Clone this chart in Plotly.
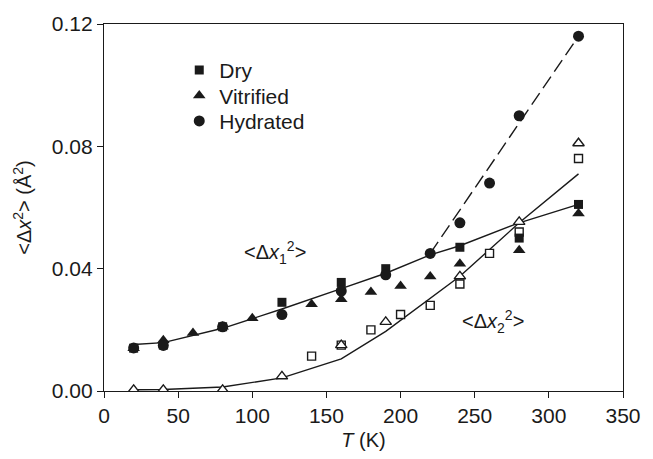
import plotly.graph_objects as go

# ---- data ----
dry_T = [20, 40, 80, 120, 160, 190, 240, 280, 320]
dry_v = [0.014, 0.015, 0.021, 0.029, 0.0355, 0.040, 0.047, 0.050, 0.061]

vit_T = [20, 40, 60, 80, 100, 140, 160, 180, 200, 220, 240, 280, 320]
vit_v = [0.014, 0.0166, 0.019, 0.021, 0.0238, 0.0284, 0.030, 0.0324, 0.0343, 0.0374, 0.0416, 0.046, 0.058]

hyd_T = [20, 40, 80, 120, 160, 190, 220, 240, 260, 280, 320]
hyd_v = [0.0141, 0.0149, 0.021, 0.025, 0.0327, 0.038, 0.045, 0.055, 0.068, 0.090, 0.116]

vit2_T = [20, 40, 80, 120, 160, 190, 240, 280, 320]
vit2_v = [0.0004, 0.0004, 0.0004, 0.0048, 0.015, 0.0226, 0.0375, 0.0553, 0.081]

dry2_T = [140, 160, 180, 200, 220, 240, 260, 280, 320]
dry2_v = [0.0114, 0.015, 0.020, 0.025, 0.028, 0.035, 0.045, 0.052, 0.076]

fit1_T = [20, 40, 80, 120, 160, 190, 220, 240, 280, 320]
fit1_v = [0.0152, 0.0158, 0.0205, 0.0268, 0.0335, 0.0385, 0.0445, 0.0475, 0.055, 0.061]

fit2_T = [20, 40, 80, 120, 160, 190, 240, 280, 320]
fit2_v = [0.0004, 0.0005, 0.0013, 0.0043, 0.0105, 0.0195, 0.0375, 0.055, 0.071]

fith_T = [220, 320]
fith_v = [0.045, 0.116]

legend_names = ["Dry", "Vitrified", "Hydrated"]
x_ticks = [0, 50, 100, 150, 200, 250, 300, 350]
y_ticks = [0.00, 0.04, 0.08, 0.12]

INK = "#1a1a1a"
FONT = "Liberation Sans, Arial, Helvetica, sans-serif"
FS = 21

fig = go.Figure()

# fitted curves
fig.add_trace(go.Scatter(x=fit1_T, y=fit1_v, mode="lines", line=dict(color=INK, width=1.4),
                         showlegend=False, hoverinfo="skip"))
fig.add_trace(go.Scatter(x=fit2_T, y=fit2_v, mode="lines", line=dict(color=INK, width=1.4),
                         showlegend=False, hoverinfo="skip"))
fig.add_trace(go.Scatter(x=fith_T, y=fith_v, mode="lines",
                         line=dict(color=INK, width=1.4, dash="14px,6px"),
                         showlegend=False, hoverinfo="skip"))

# open symbols (<dx2^2>)
fig.add_trace(go.Scatter(x=dry2_T, y=dry2_v, mode="markers",
                         marker=dict(symbol="square", size=8, color="white",
                                     line=dict(color=INK, width=1.4)),
                         showlegend=False))
fig.add_trace(go.Scatter(x=vit2_T, y=vit2_v, mode="markers",
                         marker=dict(symbol="triangle-up", size=10, color="white",
                                     line=dict(color=INK, width=1.4)),
                         showlegend=False))

# filled symbols, each with its own legend so rows can be spaced as in the reference
fig.add_trace(go.Scatter(x=dry_T, y=dry_v, mode="markers", name=legend_names[0], legend="legend",
                         marker=dict(symbol="square", size=9, color=INK, line=dict(width=0))))
fig.add_trace(go.Scatter(x=vit_T, y=vit_v, mode="markers", name=legend_names[1], legend="legend2",
                         marker=dict(symbol="triangle-up", size=11, color=INK, line=dict(width=0))))
fig.add_trace(go.Scatter(x=hyd_T, y=hyd_v, mode="markers", name=legend_names[2], legend="legend3",
                         marker=dict(symbol="circle", size=11, color=INK, line=dict(width=0))))

fig.add_annotation(x=115, y=0.0453, xref="x", yref="y", showarrow=False,
                   text="&lt;Δ<i>x</i><sub>1</sub><sup>2</sup>&gt;",
                   font=dict(family=FONT, size=FS - 1, color=INK))
fig.add_annotation(x=262, y=0.0226, xref="x", yref="y", showarrow=False,
                   text="&lt;Δ<i>x</i><sub>2</sub><sup>2</sup>&gt;",
                   font=dict(family=FONT, size=FS - 1, color=INK))

leg_common = dict(x=0.145, xanchor="left", yanchor="middle", bgcolor="rgba(0,0,0,0)",
                  font=dict(family=FONT, size=FS, color=INK), itemwidth=30, borderwidth=0)

fig.update_layout(
    width=653, height=459,
    margin=dict(l=104, r=20, t=22, b=66),
    paper_bgcolor="white", plot_bgcolor="white",
    font=dict(family=FONT, size=FS, color=INK),
    legend=dict(y=0.874, **leg_common),
    legend2=dict(y=0.804, **leg_common),
    legend3=dict(y=0.735, **leg_common),
    xaxis=dict(range=[0, 350], tickvals=x_ticks, ticks="outside", ticklen=6, tickwidth=1.4,
               tickcolor=INK, showline=True, linecolor=INK, linewidth=1.4, mirror=True,
               showgrid=False, zeroline=False,
               title=dict(text="<i>T</i> (K)", standoff=6, font=dict(size=FS - 1))),
    yaxis=dict(range=[0, 0.12], tickvals=y_ticks, tickformat=".2f", ticks="outside", ticklen=6,
               tickwidth=1.4, tickcolor=INK, showline=True, linecolor=INK, linewidth=1.4,
               mirror=True, showgrid=False, zeroline=False,
               title=dict(text="&lt;Δ<i>x</i><sup>2</sup>&gt; (Å<sup>2</sup>)", standoff=14,
                          font=dict(size=FS - 1))),
)

fig.write_html("out.html", config={"displayModeBar": False},
               post_script="document.body.style.margin='0';document.body.style.overflow='hidden';")
